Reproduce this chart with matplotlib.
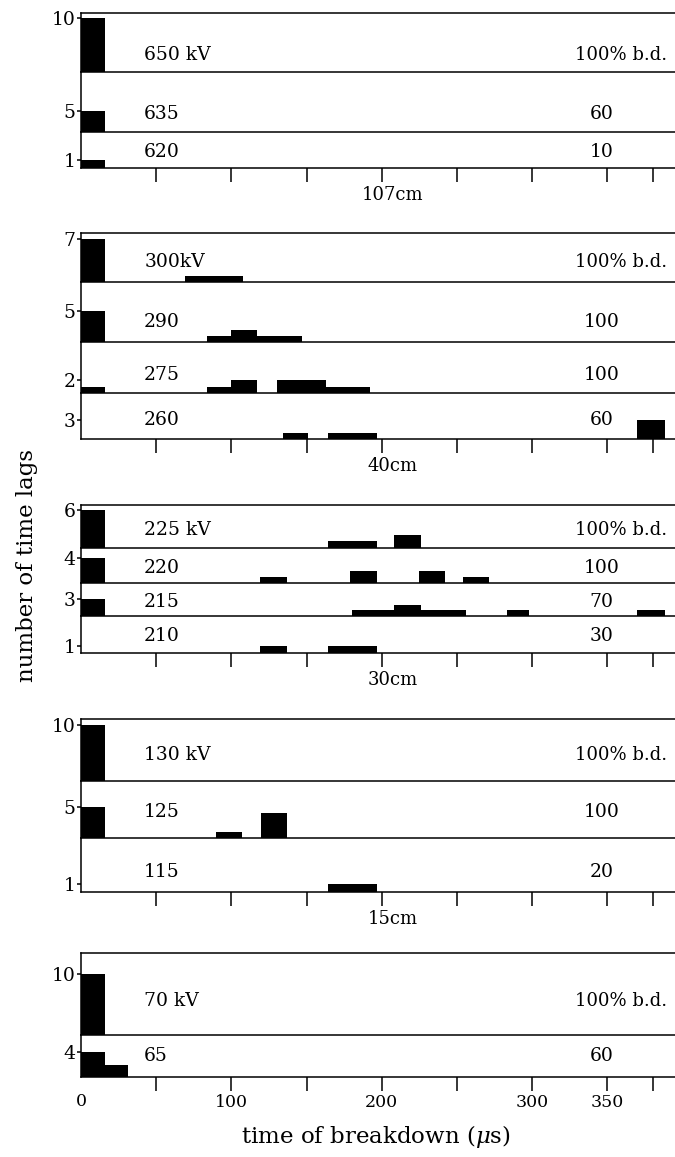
import matplotlib
matplotlib.use('Agg')
import matplotlib.pyplot as plt
import matplotlib.transforms as mtransforms

plt.rcParams['font.family'] = ['DejaVu Serif']
plt.rcParams['mathtext.fontset'] = 'dejavuserif'

# ---- data: (start us, end us, number of time lags) ----
gap_labels = ['107cm', '40cm', '30cm', '15cm', '']

volt_labels = [
    ['650 kV', '635', '620'],
    ['300kV', '290', '275', '260'],
    ['225 kV', '220', '215', '210'],
    ['130 kV', '125', '115'],
    ['70 kV', '65'],
]

bd_labels = [
    ['100% b.d.', '60', '10'],
    ['100% b.d.', '100', '100', '60'],
    ['100% b.d.', '100', '70', '30'],
    ['100% b.d.', '100', '20'],
    ['100% b.d.', '60'],
]

bars_107cm = [
    [(0, 16, 10)],
    [(0, 16, 5)],
    [(0, 16, 1)],
]
bars_40cm = [
    [(0, 16, 7), (69, 108, 1)],
    [(0, 16, 5), (84, 100, 1), (100, 117, 2), (117, 147, 1)],
    [(0, 16, 1), (84, 100, 1), (100, 117, 2), (130, 163, 2), (163, 192, 1)],
    [(134, 151, 1), (164, 197, 1), (370, 388, 3)],
]
bars_30cm = [
    [(0, 16, 6), (164, 197, 1), (208, 226, 2)],
    [(0, 16, 4), (119, 137, 1), (179, 197, 2), (225, 242, 2), (254, 271, 1)],
    [(0, 16, 3), (180, 208, 1), (208, 226, 2), (226, 256, 1), (283, 298, 1), (370, 388, 1)],
    [(119, 137, 1), (164, 197, 1)],
]
bars_15cm = [
    [(0, 16, 10)],
    [(0, 16, 5), (90, 107, 1), (120, 137, 4)],
    [(164, 197, 1)],
]
bars_last = [
    [(0, 16, 10)],
    [(0, 16, 4), (16, 31, 2)],
]
all_bars = [bars_107cm, bars_40cm, bars_30cm, bars_15cm, bars_last]

x_ticks = [50, 100, 150, 200, 250, 300, 350, 380]
x_ticklabels = ['', '100', '', '200', '', '300', '350', '']

# ---- layout (pixels of the 675x1157 picture) ----
W, H = 675, 1157
rows_px = [
    [12.7, 72, 131.7, 167.7],
    [233, 282, 342, 393, 439],
    [505, 547.7, 583.3, 616, 653.3],
    [719.3, 780.7, 837.7, 891.7],
    [953.3, 1035, 1077.3],
]
px_per_count = [
    [5.37, 4.2, 7.3],
    [6.15, 6.2, 6.5, 6.3],
    [6.28, 6.25, 5.6, 7.0],
    [5.57, 6.06, 7.7],
    [6.1, 6.4],
]
text_rise = [
    [17, 17.7, 15.7],
    [20, 20, 18, 19],
    [18, 15, 14, 17],
    [26, 26, 20],
    [34, 21],
]
x_left, x_right = 81, 675
px_per_us = 1.504
x_max = (x_right - x_left) / px_per_us
lw = 1.1

fig = plt.figure(figsize=(W / 100, H / 100), dpi=100)

for p, bars in enumerate(all_bars):
    rows = rows_px[p]
    n = len(bars)
    for j in range(n):
        top, bot = rows[j], rows[j + 1]
        hpx = bot - top
        ax = fig.add_axes([x_left / W, 1 - bot / H, (x_right - x_left) / W, hpx / H])
        ax.patch.set_visible(False)
        ax.set_xlim(0, x_max)
        ax.set_ylim(0, hpx / px_per_count[p][j])
        for a, b, c in bars[j]:
            ax.bar(a, c, width=b - a, align='edge', color='black', linewidth=0)

        ax.spines['right'].set_visible(False)
        ax.spines['top'].set_visible(j == 0)
        for s in ['left', 'bottom', 'top']:
            ax.spines[s].set_linewidth(lw)

        top_count = max(c for a, b, c in bars[j])
        ax.set_yticks([top_count])
        ax.set_yticklabels([str(top_count)], fontsize=13.5)
        ax.tick_params(axis='y', length=3, width=lw, pad=1)

        if j == n - 1:
            ax.set_xticks(x_ticks)
            if p == len(all_bars) - 1:
                ax.set_xticklabels(x_ticklabels, fontsize=12.5)
            else:
                ax.set_xticklabels([''] * len(x_ticks))
            ax.tick_params(axis='x', length=10, width=lw, pad=2, direction='out')
        else:
            ax.set_xticks([])

        trans = mtransforms.blended_transform_factory(ax.transData, ax.transAxes)
        ty = text_rise[p][j] / hpx
        ax.text(42, ty, volt_labels[p][j], transform=trans, ha='left', va='center', fontsize=13.5)
        if bd_labels[p][j].startswith('100%'):
            ax.text(390, ty, bd_labels[p][j], transform=trans, ha='right', va='center', fontsize=13)
        else:
            ax.text(346, ty, bd_labels[p][j], transform=trans, ha='center', va='center', fontsize=13.5)

    if gap_labels[p]:
        fig.text(393 / W, 1 - (rows[-1] + 27) / H, gap_labels[p], ha='center', va='center', fontsize=13)

fig.text(x_left / W, 1 - 1101.7 / H, '0', ha='center', va='center', fontsize=12.5)
fig.text(376 / W, 1 - 1137 / H, r'time of breakdown ($\mu$s)', ha='center', va='center', fontsize=16.5)
fig.text(27 / W, 1 - 565 / H, 'number of time lags', ha='center', va='center', rotation=90, fontsize=16.5)

fig.savefig('out.png', dpi=100)
